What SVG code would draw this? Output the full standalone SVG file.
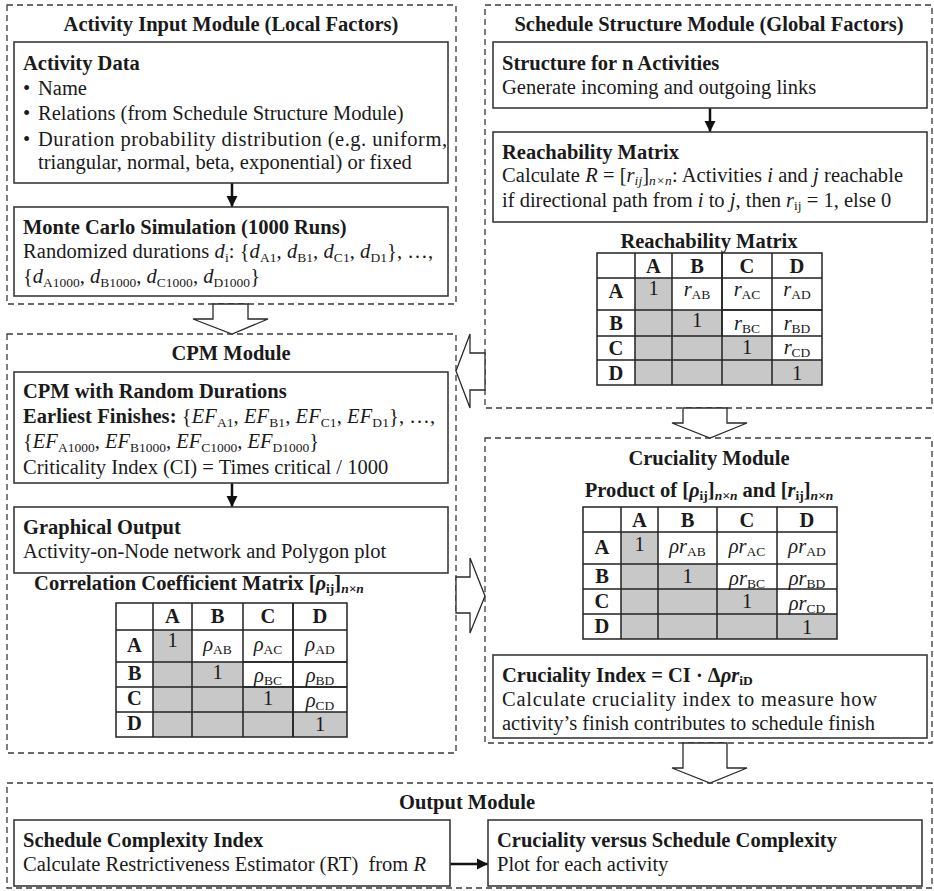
<svg xmlns="http://www.w3.org/2000/svg" width="934" height="891" viewBox="0 0 934 891">
<style>
.t{font-family:"Liberation Serif","Times New Roman",serif;font-size:20.5px;fill:#1a1a1a}
.b{font-weight:bold}
.i{font-style:italic}
.s{font-size:13.5px}
.c{text-anchor:middle}
.mod{fill:none;stroke:#3a3a3a;stroke-width:1.3;stroke-dasharray:6 4}
.box{fill:#fff;stroke:#3a3a3a;stroke-width:1.6}
.big{fill:#fff;stroke:#2a2a2a;stroke-width:1.3;stroke-linejoin:miter}
.grid{fill:none;stroke:#222;stroke-width:1.5}
.gray{fill:#c8c8c8}
.arr{stroke:#111;stroke-width:2.5;fill:none}
</style>
<defs>
<marker id="ah" markerUnits="userSpaceOnUse" markerWidth="12" markerHeight="12" refX="11" refY="6" orient="auto">
<path d="M0,0.5 L11,6 L0,11.5 z" fill="#111"/>
</marker>
</defs>

<rect class="mod" x="7" y="5" width="449" height="299"/>
<rect class="mod" x="485" y="5" width="447" height="403"/>
<rect class="mod" x="7" y="334" width="449" height="419"/>
<rect class="mod" x="485" y="438" width="447" height="305"/>
<rect class="mod" x="7" y="783" width="925" height="105"/>

<g id="connectors">
<polygon class="big" points="213,304 213,319 193,319 232,334 268,319 248,319 248,304"/>
<polygon class="big" points="485,353 470,353 470,334 456,371 470,408 470,390 485,390"/>
<polygon class="big" points="456,577 470,577 470,558 485,596 470,633 470,613 456,613"/>
<polygon class="big" points="683,408 683,423 672,423 710,438 747,423 727,423 727,408"/>
<polygon class="big" points="683,743 683,768 672,768 710,783 747,768 727,768 727,743"/>
<line class="arr" x1="232" y1="183" x2="232" y2="207" marker-end="url(#ah)"/>
<line class="arr" x1="710" y1="108" x2="710" y2="132" marker-end="url(#ah)"/>
<line class="arr" x1="232" y1="483" x2="232" y2="507" marker-end="url(#ah)"/>
<line class="arr" x1="450" y1="864" x2="488" y2="864" marker-end="url(#ah)"/>
</g>

<g id="activity-input-module">
<text class="t b c" x="231" y="31">Activity Input Module (Local Factors)</text>
</g>
<g id="activity-data">
<rect class="box" x="14" y="42" width="434" height="141"/>
<text class="t b" x="23" y="70">Activity Data</text>
<text class="t" x="23" y="95">•</text><text class="t" x="38" y="95">Name</text>
<text class="t" x="23" y="120">•</text><text class="t" x="38" y="120">Relations (from Schedule Structure Module)</text>
<text class="t" x="23" y="146">•</text><text class="t" x="38" y="146" textLength="409" lengthAdjust="spacing">Duration probability distribution (e.g. uniform,</text>
<text class="t" x="38" y="169">triangular, normal, beta, exponential) or fixed</text>
</g>
<g id="monte-carlo">
<rect class="box" x="14" y="207" width="434" height="89"/>
<text class="t b" x="23" y="234">Monte Carlo Simulation (1000 Runs)</text>
<text class="t" x="23" y="258" textLength="410" lengthAdjust="spacing">Randomized durations <tspan class="i">d</tspan><tspan class="s" dy="4">i</tspan><tspan dy="-4">: {</tspan><tspan class="i">d</tspan><tspan class="s" dy="4">A1</tspan><tspan dy="-4">, </tspan><tspan class="i">d</tspan><tspan class="s" dy="4">B1</tspan><tspan dy="-4">, </tspan><tspan class="i">d</tspan><tspan class="s" dy="4">C1</tspan><tspan dy="-4">, </tspan><tspan class="i">d</tspan><tspan class="s" dy="4">D1</tspan><tspan dy="-4">}, …,</tspan></text>
<text class="t" x="23" y="283">{<tspan class="i">d</tspan><tspan class="s" dy="4">A1000</tspan><tspan dy="-4">, </tspan><tspan class="i">d</tspan><tspan class="s" dy="4">B1000</tspan><tspan dy="-4">, </tspan><tspan class="i">d</tspan><tspan class="s" dy="4">C1000</tspan><tspan dy="-4">, </tspan><tspan class="i">d</tspan><tspan class="s" dy="4">D1000</tspan><tspan dy="-4">}</tspan></text>
</g>

<g id="schedule-structure-module">
<text class="t b c" x="709" y="31">Schedule Structure Module (Global Factors)</text>
</g>
<g id="structure">
<rect class="box" x="493" y="42" width="434" height="66"/>
<text class="t b" x="502" y="70">Structure for n Activities</text>
<text class="t" x="502" y="94">Generate incoming and outgoing links</text>
</g>
<g id="reachability">
<rect class="box" x="493" y="132" width="434" height="90"/>
<text class="t b" x="502" y="159">Reachability Matrix</text>
<text class="t" x="502" y="182" textLength="401" lengthAdjust="spacing">Calculate <tspan class="i">R</tspan> = [<tspan class="i">r</tspan><tspan class="s i" dy="3">ij</tspan><tspan dy="-3">]</tspan><tspan class="s i" dy="3">n×n</tspan><tspan dy="-3">: Activities </tspan><tspan class="i">i</tspan> and <tspan class="i">j</tspan> reachable</text>
<text class="t" x="502" y="207">if directional path from <tspan class="i">i</tspan> to <tspan class="i">j</tspan>, then <tspan class="i">r</tspan><tspan class="s" dy="3">ij</tspan><tspan dy="-3"> = 1, else 0</tspan></text>
</g>
<g id="reachability-table">
<text class="t b c" x="709" y="248">Reachability Matrix</text>
<rect class="gray" x="635" y="278" width="37" height="107"/>
<rect class="gray" x="672" y="310" width="50" height="75"/>
<rect class="gray" x="722" y="336" width="50" height="49"/>
<rect class="gray" x="772" y="360" width="50" height="25"/>
<rect class="grid" x="597" y="253" width="225" height="132"/>
<path class="grid" d="M635,253V385M672,253V385M722,253V385M772,253V385M597,278H822M597,310H822M597,336H822M597,360H822"/>
<path class="grid" stroke-width="2.5" d="M722,253V336M722,310H822"/>
<g class="t b c"><text x="653.5" y="273">A</text><text x="697" y="273">B</text><text x="747" y="273">C</text><text x="797" y="273">D</text>
<text x="616" y="298">A</text><text x="616" y="330">B</text><text x="616" y="355">C</text><text x="616" y="380">D</text></g>
<g class="t c">
<text x="653.5" y="295">1</text>
<text x="697" y="296"><tspan class="i">r</tspan><tspan class="s" dy="3">AB</tspan></text>
<text x="747" y="296"><tspan class="i">r</tspan><tspan class="s" dy="3">AC</tspan></text>
<text x="797" y="296"><tspan class="i">r</tspan><tspan class="s" dy="3">AD</tspan></text>
<text x="697" y="327">1</text>
<text x="747" y="330"><tspan class="i">r</tspan><tspan class="s" dy="3">BC</tspan></text>
<text x="797" y="330"><tspan class="i">r</tspan><tspan class="s" dy="3">BD</tspan></text>
<text x="747" y="354">1</text>
<text x="797" y="354"><tspan class="i">r</tspan><tspan class="s" dy="3">CD</tspan></text>
<text x="797" y="380">1</text>
</g>
</g>

<g id="cpm-module">
<text class="t b c" x="231" y="360">CPM Module</text>
</g>
<g id="cpm-random">
<rect class="box" x="14" y="372" width="434" height="111"/>
<text class="t b" x="23" y="398">CPM with Random Durations</text>
<text class="t" x="23" y="423" textLength="412" lengthAdjust="spacing"><tspan class="b">Earliest Finishes:</tspan> {<tspan class="i">EF</tspan><tspan class="s" dy="4">A1</tspan><tspan dy="-4">, </tspan><tspan class="i">EF</tspan><tspan class="s" dy="4">B1</tspan><tspan dy="-4">, </tspan><tspan class="i">EF</tspan><tspan class="s" dy="4">C1</tspan><tspan dy="-4">, </tspan><tspan class="i">EF</tspan><tspan class="s" dy="4">D1</tspan><tspan dy="-4">}, …,</tspan></text>
<text class="t" x="23" y="448">{<tspan class="i">EF</tspan><tspan class="s" dy="4">A1000</tspan><tspan dy="-4">, </tspan><tspan class="i">EF</tspan><tspan class="s" dy="4">B1000</tspan><tspan dy="-4">, </tspan><tspan class="i">EF</tspan><tspan class="s" dy="4">C1000</tspan><tspan dy="-4">, </tspan><tspan class="i">EF</tspan><tspan class="s" dy="4">D1000</tspan><tspan dy="-4">}</tspan></text>
<text class="t" x="23" y="474">Criticality Index (CI) = Times critical / 1000</text>
</g>
<g id="graphical-output">
<rect class="box" x="14" y="507" width="434" height="66"/>
<text class="t b" x="23" y="534">Graphical Output</text>
<text class="t" x="23" y="558">Activity-on-Node network and Polygon plot</text>
</g>
<g id="correlation-table">
<text class="t b c" x="199" y="590">Correlation Coefficient Matrix [<tspan class="i">ρ</tspan><tspan class="s" dy="3">ij</tspan><tspan dy="-3">]</tspan><tspan class="s i" dy="3">n×n</tspan></text>
<rect class="gray" x="153" y="630" width="39" height="107"/>
<rect class="gray" x="192" y="662" width="51" height="75"/>
<rect class="gray" x="243" y="687" width="50" height="50"/>
<rect class="gray" x="293" y="712" width="54" height="25"/>
<rect class="grid" x="116" y="603" width="231" height="134"/>
<path class="grid" d="M153,603V737M192,603V737M243,603V737M293,603V737M116,630H347M116,662H347M116,687H347M116,712H347"/>
<path class="grid" stroke-width="2.5" d="M293,603V737M243,662H347M243,687H347"/>
<g class="t b c"><text x="172.5" y="623">A</text><text x="217.5" y="623">B</text><text x="268" y="623">C</text><text x="320" y="623">D</text>
<text x="134.5" y="652">A</text><text x="134.5" y="680">B</text><text x="134.5" y="705">C</text><text x="134.5" y="730">D</text></g>
<g class="t c">
<text x="172.5" y="647">1</text>
<text x="217.5" y="651"><tspan class="i">ρ</tspan><tspan class="s" dy="3">AB</tspan></text>
<text x="268" y="651"><tspan class="i">ρ</tspan><tspan class="s" dy="3">AC</tspan></text>
<text x="320" y="651"><tspan class="i">ρ</tspan><tspan class="s" dy="3">AD</tspan></text>
<text x="217.5" y="679">1</text>
<text x="268" y="682"><tspan class="i">ρ</tspan><tspan class="s" dy="3">BC</tspan></text>
<text x="320" y="682"><tspan class="i">ρ</tspan><tspan class="s" dy="3">BD</tspan></text>
<text x="268" y="705">1</text>
<text x="320" y="707"><tspan class="i">ρ</tspan><tspan class="s" dy="3">CD</tspan></text>
<text x="320" y="731">1</text>
</g>
</g>

<g id="cruciality-module">
<text class="t b c" x="709" y="465">Cruciality Module</text>
</g>
<g id="product-table">
<text class="t b c" x="709" y="497">Product of [<tspan class="i">ρ</tspan><tspan class="s" dy="3">ij</tspan><tspan dy="-3">]</tspan><tspan class="s i" dy="3">n×n</tspan><tspan dy="-3"> and [</tspan><tspan class="i">r</tspan><tspan class="s" dy="3">ij</tspan><tspan dy="-3">]</tspan><tspan class="s i" dy="3">n×n</tspan></text>
<rect class="gray" x="621" y="532" width="37" height="107"/>
<rect class="gray" x="658" y="564" width="59" height="75"/>
<rect class="gray" x="717" y="589" width="60" height="50"/>
<rect class="gray" x="777" y="614" width="60" height="25"/>
<rect class="grid" x="583" y="507" width="254" height="132"/>
<path class="grid" d="M621,507V639M658,507V639M717,507V639M777,507V639M583,532H837M583,564H837M583,589H837M583,614H837"/>
<g class="t b c"><text x="639.5" y="527">A</text><text x="687.5" y="527">B</text><text x="747" y="527">C</text><text x="807" y="527">D</text>
<text x="602" y="554">A</text><text x="602" y="583">B</text><text x="602" y="608">C</text><text x="602" y="633">D</text></g>
<g class="t c">
<text x="639.5" y="551">1</text>
<text x="687.5" y="553"><tspan class="i">ρr</tspan><tspan class="s" dy="3">AB</tspan></text>
<text x="747" y="553"><tspan class="i">ρr</tspan><tspan class="s" dy="3">AC</tspan></text>
<text x="807" y="553"><tspan class="i">ρr</tspan><tspan class="s" dy="3">AD</tspan></text>
<text x="687.5" y="583">1</text>
<text x="747" y="585"><tspan class="i">ρr</tspan><tspan class="s" dy="3">BC</tspan></text>
<text x="807" y="585"><tspan class="i">ρr</tspan><tspan class="s" dy="3">BD</tspan></text>
<text x="747" y="608">1</text>
<text x="807" y="610"><tspan class="i">ρr</tspan><tspan class="s" dy="3">CD</tspan></text>
<text x="807" y="634">1</text>
</g>
</g>
<g id="cruciality-index">
<rect class="box" x="493" y="655" width="434" height="83"/>
<text class="t b" x="502" y="682">Cruciality Index = CI · Δ<tspan class="i">ρr</tspan><tspan class="s" dy="3">iD</tspan></text>
<text class="t" x="502" y="706" textLength="375" lengthAdjust="spacing">Calculate cruciality index to measure how</text>
<text class="t" x="502" y="730">activity’s finish contributes to schedule finish</text>
</g>

<g id="output-module">
<text class="t b c" x="467" y="809">Output Module</text>
</g>
<g id="schedule-complexity">
<rect class="box" x="14" y="820" width="436" height="66"/>
<text class="t b" x="23" y="847">Schedule Complexity Index</text>
<text class="t" x="23" y="871" xml:space="preserve">Calculate Restrictiveness Estimator (RT)  from <tspan class="i">R</tspan></text>
</g>
<g id="cruciality-vs-complexity">
<rect class="box" x="488" y="820" width="434" height="66"/>
<text class="t b" x="497" y="847">Cruciality versus Schedule Complexity</text>
<text class="t" x="497" y="871">Plot for each activity</text>
</g>
</svg>
